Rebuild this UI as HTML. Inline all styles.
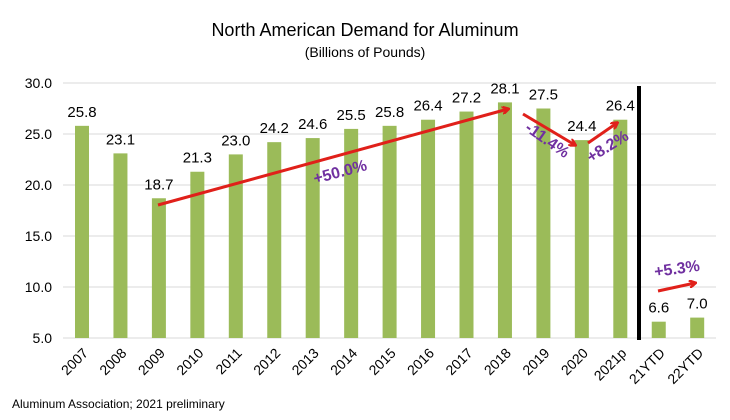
<!DOCTYPE html><html><head><style>body{margin:0;background:#fff}svg{display:block;font-family:"Liberation Sans",Calibri,sans-serif}</style></head><body>
<svg width="730" height="420" viewBox="0 0 730 420">
<defs><marker id="ah" markerWidth="8" markerHeight="8" refX="6" refY="4" orient="auto" markerUnits="userSpaceOnUse"><path d="M0,0 L7,4 L0,8" fill="none" stroke="#e0201a" stroke-width="2.5"/></marker></defs>
<text x="365" y="36" font-size="18" text-anchor="middle" fill="#000">North American Demand for Aluminum</text>
<text x="365" y="57" font-size="14" text-anchor="middle" fill="#000">(Billions of Pounds)</text>
<g stroke="#d9d9d9" stroke-width="1">
<line x1="63" x2="716" y1="83" y2="83"/><line x1="63" x2="716" y1="134" y2="134"/><line x1="63" x2="716" y1="185" y2="185"/><line x1="63" x2="716" y1="236" y2="236"/><line x1="63" x2="716" y1="287" y2="287"/><line x1="63" x2="716" y1="338" y2="338"/></g>
<g font-size="14" text-anchor="end" fill="#000">
<text x="52" y="88">30.0</text><text x="52" y="139">25.0</text><text x="52" y="190">20.0</text><text x="52" y="241">15.0</text><text x="52" y="292">10.0</text><text x="52" y="343">5.0</text></g>
<g id="bars" fill="#9bbb59"></g>
<g id="vals" font-size="15" text-anchor="middle" fill="#000"></g>
<g id="xl" font-size="14" fill="#000"></g>
<line x1="639" y1="86" x2="639" y2="340" stroke="#000" stroke-width="4"/>
<g stroke="#e0201a" stroke-width="3" marker-end="url(#ah)" fill="none">
<line x1="158" y1="205" x2="508" y2="109"/>
<line x1="523" y1="114" x2="575" y2="145"/>
<line x1="588" y1="143" x2="617" y2="123"/>
<line x1="658" y1="291" x2="695" y2="283"/></g>
<g font-size="16" font-weight="bold" fill="#7030a0">
<text x="315" y="184" transform="rotate(-15 315 184)">+50.0%</text>
<text x="524" y="130" transform="rotate(35 524 130)">-11.4%</text>
<text x="591" y="163" transform="rotate(-32 591 163)">+8.2%</text>
<text x="655" y="277" transform="rotate(-8 655 277)">+5.3%</text></g>
<text x="12" y="408" font-size="12" fill="#000">Aluminum Association; 2021 preliminary</text>
<script>
var d=[["2007",25.8],["2008",23.1],["2009",18.7],["2010",21.3],["2011",23.0],["2012",24.2],["2013",24.6],["2014",25.5],["2015",25.8],["2016",26.4],["2017",27.2],["2018",28.1],["2019",27.5],["2020",24.4],["2021p",26.4],["21YTD",6.6],["22YTD",7.0]];
var ns="http://www.w3.org/2000/svg",b=document.getElementById("bars"),v=document.getElementById("vals"),x=document.getElementById("xl");
function mk(t,a,p,txt){var e=document.createElementNS(ns,t);for(var k in a)e.setAttribute(k,a[k]);if(txt)e.textContent=txt;p.appendChild(e);}
d.forEach(function(r,i){var c=82+i*38.45,y=338-(r[1]-5)*10.2;
mk("rect",{x:c-7,y:y,width:14,height:338-y},b);
mk("text",{x:c,y:y-9},v,r[1].toFixed(1));
mk("text",{x:c+7,y:354,"text-anchor":"end",transform:"rotate(-45 "+(c+7)+" 354)"},x,r[0]);});
</script>
</svg></body></html>
